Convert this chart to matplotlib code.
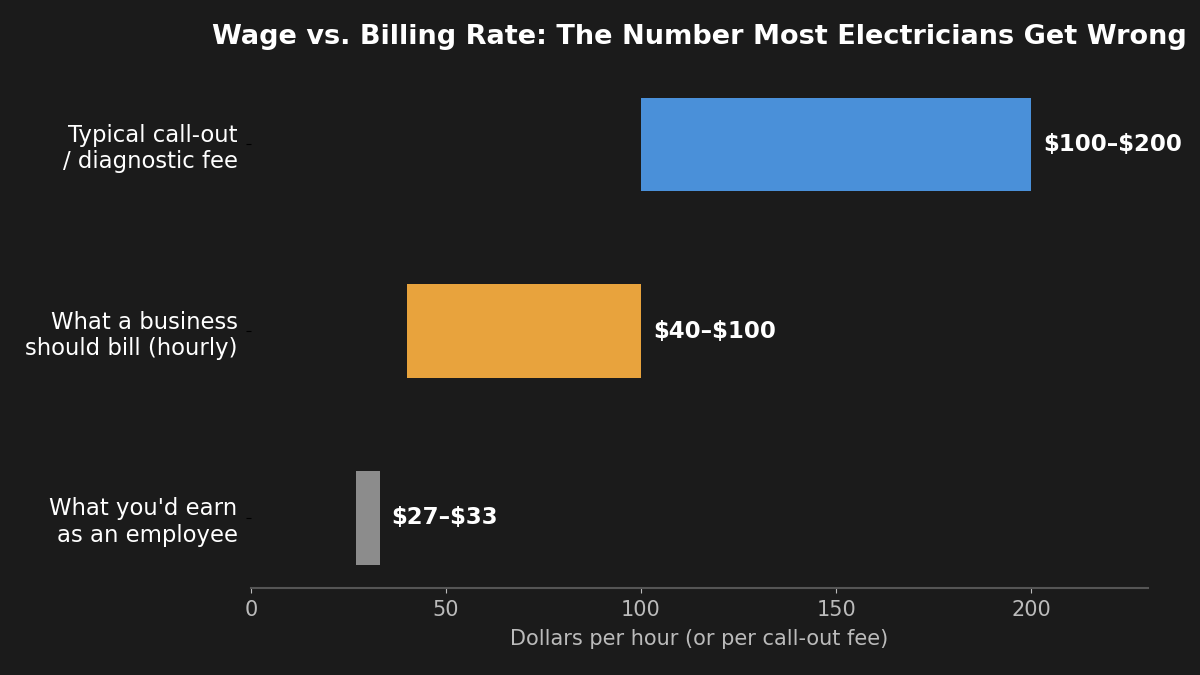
import matplotlib
matplotlib.use("Agg")
import matplotlib.pyplot as plt

categories = ["What you'd earn\nas an employee",
              "What a business\nshould bill (hourly)",
              "Typical call-out\n/ diagnostic fee"]
low = [27, 40, 100]
high = [33, 100, 200]
labels = ["\\$27–\\$33", "\\$40–\\$100", "\\$100–\\$200"]
colors = ["#8c8c8c", "#e8a33d", "#4a90d9"]

bg = "#1b1b1b"
fig = plt.figure(figsize=(12, 6.75), dpi=100, facecolor=bg)
ax = fig.add_axes([0.209, 0.129, 0.748, 0.761])
ax.set_facecolor(bg)

widths = [h - l for l, h in zip(low, high)]
ax.barh(range(len(categories)), widths, left=low, height=0.5, color=colors)

for i, (h, lab) in enumerate(zip(high, labels)):
    ax.text(h + 3, i, lab, va="center", ha="left", color="white",
            fontsize=16.5, fontweight="bold")

ax.set_yticks(range(len(categories)))
ax.set_yticklabels(categories, color="white", fontsize=16.4)
ax.tick_params(axis="y", colors="black", labelcolor="white", length=3.5, pad=6)
ax.tick_params(axis="x", colors="#bbbbbb", labelsize=15, length=3.5, pad=5.5)
ax.set_xlim(0, 230)
ax.set_xticks([0, 50, 100, 150, 200])

for s in ["top", "right", "left"]:
    ax.spines[s].set_visible(False)
ax.spines["bottom"].set_color("#555555")
ax.spines["bottom"].set_linewidth(1.5)

ax.set_xlabel("Dollars per hour (or per call-out fee)", color="#bbbbbb",
              fontsize=15, labelpad=6.5)
ax.set_title("Wage vs. Billing Rate: The Number Most Electricians Get Wrong",
             color="white", fontsize=19.5, fontweight="bold", pad=22)

fig.savefig("out.png", dpi=100, facecolor=bg)
